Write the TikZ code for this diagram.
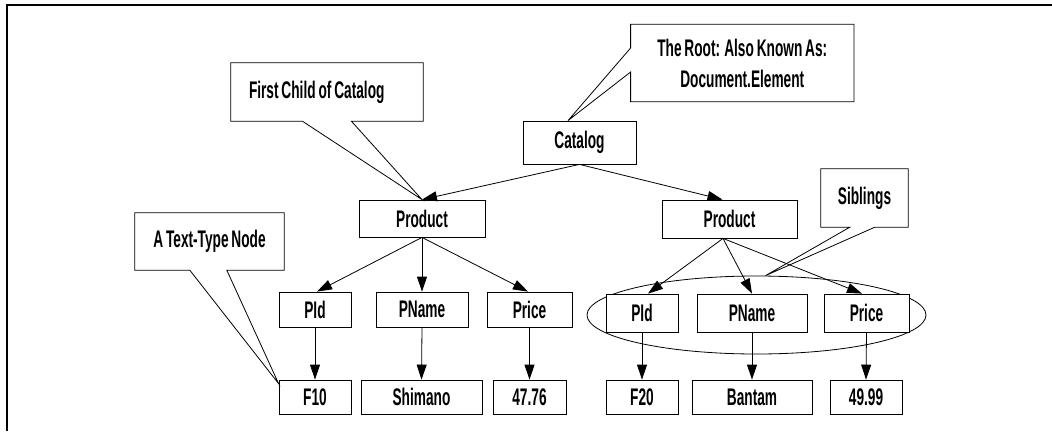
\documentclass[tikz,border=0pt]{standalone}
\usepackage{fontspec}
\setmainfont{Liberation Sans}[FakeStretch=0.57,WordSpace=0.75]
\usetikzlibrary{arrows.meta,shapes.geometric}
\newcommand{\diafont}{\fontsize{24}{31}\selectfont\bfseries}
\begin{document}
\begin{tikzpicture}[x=1pt,y=-1pt,
  box/.style={draw,fill=white,line width=0.8pt,inner sep=0pt,font=\diafont},
  callout/.style={inner sep=0pt,font=\diafont},
  arr/.style={-{Triangle[length=15pt,width=10pt]},line width=0.8pt},
  tail/.style={line width=0.8pt}]
\useasboundingbox (0,0) rectangle (1052,431);
\draw[line width=2pt] (7,431) -- (7,4.5) -- (1052,4.5);

% sibling ellipse
\node[ellipse,draw,line width=0.8pt,minimum width=339pt,minimum height=78pt,inner sep=0pt] (sib) at (756.5,315) {};

% tree nodes
\node[box,minimum width=113pt,minimum height=43pt] (cat) at (579.5,142.5) {Catalog};
\node[box,minimum width=126pt,minimum height=37pt] (pl) at (422,218.5) {Product};
\node[box,minimum width=135pt,minimum height=38pt] (pr) at (729.5,219) {Product};

\node[box,minimum width=72pt,minimum height=35pt] (pidl) at (315,309.5) {PId};
\node[box,minimum width=92pt,minimum height=35pt] (pnl) at (422,309.5) {PName};
\node[box,minimum width=85pt,minimum height=35pt] (prl) at (529.5,309.5) {Price};

\node[box,minimum width=72pt,minimum height=38pt] (pidr) at (642,313) {PId};
\node[box,minimum width=110pt,minimum height=38pt] (pnr) at (752,313) {PName};
\node[box,minimum width=85pt,minimum height=38pt] (prr) at (866.5,313) {Price};

\node[box,minimum width=72pt,minimum height=34pt] (f10) at (315,397) {F10};
\node[box,minimum width=121pt,minimum height=34pt] (shim) at (421.5,397) {Shimano};
\node[box,minimum width=73pt,minimum height=34pt] (p1) at (529.5,397) {47.76};
\node[box,minimum width=72pt,minimum height=34pt] (f20) at (642,397) {F20};
\node[box,minimum width=120pt,minimum height=34pt] (bant) at (752,397) {Bantam};
\node[box,minimum width=72pt,minimum height=34pt] (p2) at (866,397) {49.99};

% callouts
\node[callout,minimum width=223pt,minimum height=77pt,align=center] (root) at (742.3,63) {The Root: Also Known As:\\Document.Element};
\node[callout,minimum width=192pt,minimum height=58pt] (fc) at (327,92) {\makebox[156pt][l]{First Child of Catalog}};
\node[callout,minimum width=149pt,minimum height=57pt] (tt) at (209.5,241.5) {A Text-Type Node};
\node[callout,minimum width=87pt,minimum height=58pt] (sibl) at (864.5,198) {Siblings};

\draw[tail] ([yshift=-23.7pt]root.north west) -- (root.north west) -- (root.north east) -- (root.south east) -- (root.south west) -- ([yshift=-47.7pt]root.north west) -- ([xshift=-11.5pt]cat.north) -- cycle;
\draw[tail] ([xshift=120.6pt]fc.south west) -- (fc.south east) -- (fc.north east) -- (fc.north west) -- (fc.south west) -- ([xshift=71.6pt]fc.south west) -- (pl.north) -- cycle;
\draw[tail] ([xshift=92pt]tt.south west) -- (tt.south east) -- (tt.north east) -- (tt.north west) -- (tt.south west) -- ([xshift=55pt]tt.south west) -- ([yshift=-4pt]f10.north west) -- cycle;
\draw[tail] ([xshift=54pt]sibl.south west) -- (sibl.south east) -- (sibl.north east) -- (sibl.north west) -- (sibl.south west) -- ([xshift=29pt]sibl.south west) -- ([xshift=9pt]sib.north) -- cycle;

% arrows
\draw[arr] (cat.south) -- (pl.north);
\draw[arr] (cat.south) -- ([xshift=-7pt]pr.north);
\draw[arr] (pl.south) -- ([xshift=2pt]pidl.north);
\draw[arr] (pl.south) -- (pnl.north);
\draw[arr] (pl.south) -- ([xshift=-1.5pt]prl.north);
\draw[arr] ([xshift=-6.5pt]pr.south) -- ([xshift=6pt]pidr.north);
\draw[arr] ([xshift=-6.5pt]pr.south) -- (pnr.north);
\draw[arr] ([xshift=-6.5pt]pr.south) -- ([xshift=-4.5pt]prr.north);
\draw[arr] (pidl.south) -- (f10.north);
\draw[arr] (pnl.south) -- (shim.north);
\draw[arr] (prl.south) -- (p1.north);
\draw[arr] (pidr.south) -- (f20.north);
\draw[arr] (pnr.south) -- (bant.north);
\draw[arr] (prr.south) -- (p2.north);
\end{tikzpicture}
\end{document}
